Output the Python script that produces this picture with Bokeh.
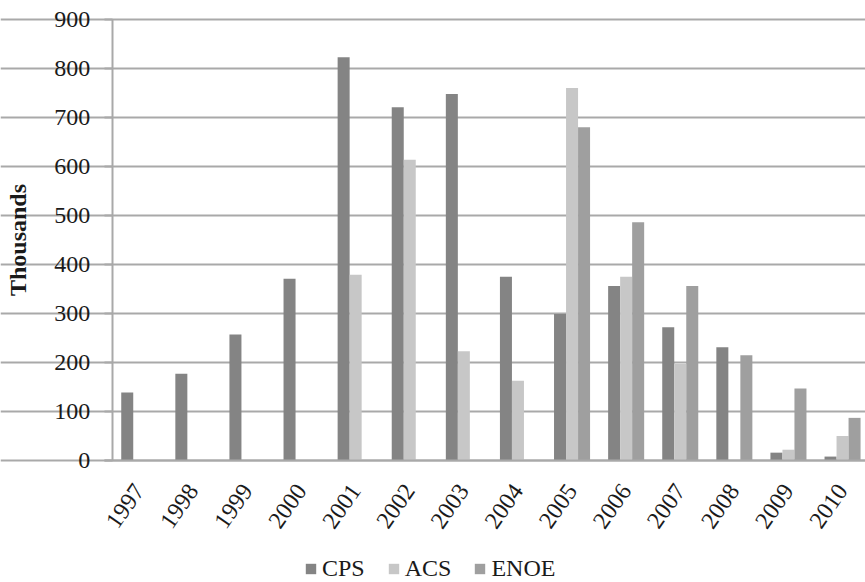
import math
import numpy as np
from bokeh.plotting import figure
from bokeh.models import (ColumnDataSource, Range1d, FixedTicker, Legend, LegendItem, Label)
from bokeh.transform import dodge
from bokeh.embed import file_html
from bokeh.resources import INLINE

years = ["1997", "1998", "1999", "2000", "2001", "2002", "2003",
         "2004", "2005", "2006", "2007", "2008", "2009", "2010"]
cps = [139, 177, 257, 371, 823, 721, 748, 375, 299, 356, 272, 231, 16, 8]
acs = [None, None, None, None, 379, 614, 223, 163, 760, 375, 197, None, 22, 50]
enoe = [None, None, None, None, None, None, None, None, 680, 486, 356, 215, 147, 87]
series_names = ["CPS", "ACS", "ENOE"]
colors = ["#848484", "#c7c7c7", "#9f9f9f"]
y_ticks = [0, 100, 200, 300, 400, 500, 600, 700, 800, 900]
y_title = "Thousands"


def arr(v):
    return np.array([np.nan if x is None else x for x in v], dtype=float)


xc = [i + 0.5 for i in range(len(years))]
src = ColumnDataSource(dict(x=xc, CPS=arr(cps), ACS=arr(acs), ENOE=arr(enoe)))

FONT = "Liberation Serif"
GRID = "#a9a9a9"
TXT = "#1a1a1a"

# the frame covers the whole page; axes are pinned at x=0 / y=0
cat_px = 54.1                      # pixels per year slot
x0_px = 111.7                      # pixel of the y axis
y_px = 441 / 900                   # pixels per thousand
x_start = -x0_px / cat_px
x_end = (865 - x0_px) / cat_px
y_start = -(582 - 460) / y_px
y_end = 900 + 19 / y_px

p = figure(width=865, height=582, output_backend="svg", toolbar_location=None,
           x_range=Range1d(x_start, x_end), y_range=Range1d(y_start, y_end),
           min_border_left=0, min_border_right=0, min_border_top=0,
           min_border_bottom=0)
p.outline_line_color = None
p.background_fill_color = "white"
p.border_fill_color = "white"

bw = 0.222
offsets = [-bw, 0.0, bw]
renderers = []
for name, col, off in zip(series_names, colors, offsets):
    r = p.vbar(x=dodge("x", off, range=p.x_range), top=name, width=bw,
               bottom=0, source=src, fill_color=col, line_color=None)
    renderers.append(r)

# y axis
p.yaxis.fixed_location = 0
p.yaxis.ticker = FixedTicker(ticks=y_ticks)
p.yaxis.bounds = (0, 900)
p.yaxis.axis_line_color = GRID
p.yaxis.axis_line_width = 2
p.yaxis.major_tick_line_color = GRID
p.yaxis.major_tick_line_width = 2
p.yaxis.major_tick_out = 8
p.yaxis.major_tick_in = 0
p.yaxis.minor_tick_line_color = None
p.yaxis.major_label_text_font = FONT
p.yaxis.major_label_text_font_size = "24px"
p.yaxis.major_label_text_color = TXT
p.yaxis.major_label_standoff = 14

p.add_layout(Label(x=(17 - x0_px) / cat_px, y=450, text=y_title, angle=math.pi / 2,
                   text_align="center", text_baseline="middle",
                   text_font=FONT, text_font_size="24px", text_font_style="bold",
                   text_color=TXT))

# x axis drawn at y = 0
p.xaxis.fixed_location = 0
p.xaxis.ticker = FixedTicker(ticks=xc)
p.xaxis.bounds = (-8 / cat_px, x_end)
p.xaxis.major_label_overrides = {x: y for x, y in zip(xc, years)}
p.xaxis.major_label_orientation = math.radians(55)
p.xaxis.axis_line_color = GRID
p.xaxis.axis_line_width = 2
p.xaxis.major_tick_line_color = None
p.xaxis.minor_tick_line_color = None
p.xaxis.major_label_text_font = FONT
p.xaxis.major_label_text_font_size = "24px"
p.xaxis.major_label_text_color = TXT
p.xaxis.major_label_standoff = 20

p.xgrid.grid_line_color = None
p.ygrid.ticker = FixedTicker(ticks=y_ticks)
p.ygrid.bounds = (-8 / cat_px, x_end)
p.ygrid.grid_line_color = GRID
p.ygrid.grid_line_width = 2

legend = Legend(items=[LegendItem(label=n, renderers=[r]) for n, r in zip(series_names, renderers)],
                orientation="horizontal", location=(304, 0),
                glyph_width=13, glyph_height=13, label_standoff=5, spacing=22,
                padding=0, margin=0, border_line_alpha=0, background_fill_alpha=0,
                label_text_font=FONT, label_text_font_size="24px",
                label_text_color=TXT)
p.add_layout(legend, "center")

open("out.html", "w").write(file_html(p, INLINE))
